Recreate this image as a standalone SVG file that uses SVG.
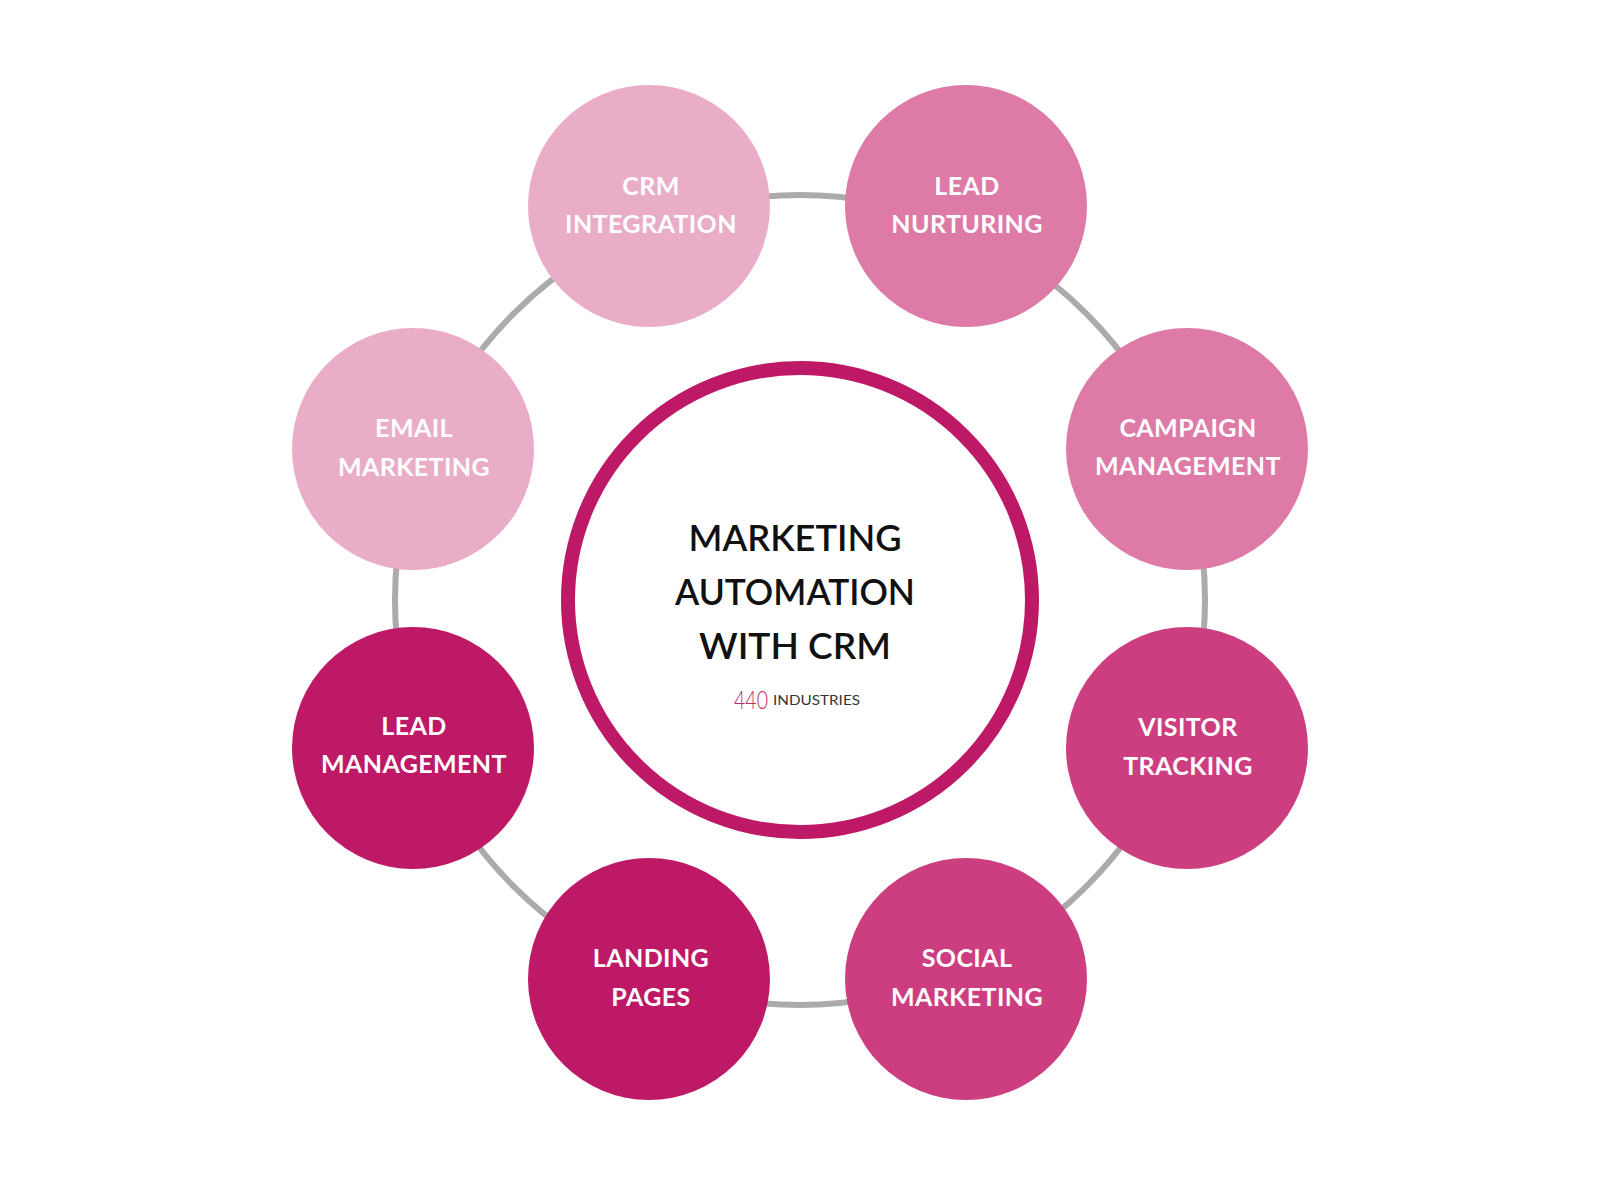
<svg xmlns="http://www.w3.org/2000/svg" width="1600" height="1200" viewBox="0 0 1600 1200">
  <style>
    .node-label { font-family: Lato, "Open Sans", "Liberation Sans", sans-serif; font-weight: 700; font-size: 25px; letter-spacing: 0.4px; fill: #FFFFFF; text-anchor: middle; }
    .title { font-family: Lato, "Open Sans", "Liberation Sans", sans-serif; font-weight: 600; font-size: 36px; fill: #111111; text-anchor: middle; }
    .light { fill: #E9ADC8; }
    .medium { fill: #DD7BA6; }
    .strong { fill: #CD3E81; }
    .dark { fill: #BE1966; }
  </style>
  <rect width="1600" height="1200" fill="#FFFFFF"/>
  <g id="connectors">
    <circle cx="800" cy="600" r="405" fill="none" stroke="#ABABAB" stroke-width="6"/>
  </g>
  <g id="center">
    <circle cx="800" cy="600" r="232" fill="#FFFFFF" stroke="#BE1966" stroke-width="14"/>
    <text class="title" x="795" y="551" textLength="213" lengthAdjust="spacingAndGlyphs">MARKETING</text>
    <text class="title" x="795" y="605" textLength="240" lengthAdjust="spacingAndGlyphs">AUTOMATION</text>
    <text class="title" x="795" y="659" textLength="192" lengthAdjust="spacingAndGlyphs">WITH CRM</text>
    <text x="734" y="709" font-family="Lato, 'Liberation Sans', sans-serif" font-weight="300" font-size="25" fill="#C2286E" textLength="34" lengthAdjust="spacingAndGlyphs">440</text>
    <text x="773" y="705" font-family="Lato, 'Liberation Sans', sans-serif" font-weight="400" font-size="14" fill="#333333" textLength="87" lengthAdjust="spacingAndGlyphs">INDUSTRIES</text>
  </g>
  <g id="crm-integration">
    <circle class="light" cx="649" cy="206" r="121"/>
    <text class="node-label" x="651" y="195">CRM</text>
    <text class="node-label" x="651" y="233">INTEGRATION</text>
  </g>
  <g id="lead-nurturing">
    <circle class="medium" cx="966" cy="206" r="121"/>
    <text class="node-label" x="967" y="195">LEAD</text>
    <text class="node-label" x="967" y="233">NURTURING</text>
  </g>
  <g id="email-marketing">
    <circle class="light" cx="413" cy="449" r="121"/>
    <text class="node-label" x="414" y="437">EMAIL</text>
    <text class="node-label" x="414" y="476">MARKETING</text>
  </g>
  <g id="campaign-management">
    <circle class="medium" cx="1187" cy="449" r="121"/>
    <text class="node-label" x="1188" y="437">CAMPAIGN</text>
    <text class="node-label" x="1188" y="475">MANAGEMENT</text>
  </g>
  <g id="lead-management">
    <circle class="dark" cx="413" cy="748" r="121"/>
    <text class="node-label" x="414" y="735">LEAD</text>
    <text class="node-label" x="414" y="773">MANAGEMENT</text>
  </g>
  <g id="visitor-tracking">
    <circle class="strong" cx="1187" cy="748" r="121"/>
    <text class="node-label" x="1188" y="736">VISITOR</text>
    <text class="node-label" x="1188" y="775">TRACKING</text>
  </g>
  <g id="landing-pages">
    <circle class="dark" cx="649" cy="979" r="121"/>
    <text class="node-label" x="651" y="967">LANDING</text>
    <text class="node-label" x="651" y="1006">PAGES</text>
  </g>
  <g id="social-marketing">
    <circle class="strong" cx="966" cy="979" r="121"/>
    <text class="node-label" x="967" y="967">SOCIAL</text>
    <text class="node-label" x="967" y="1006">MARKETING</text>
  </g>
</svg>
